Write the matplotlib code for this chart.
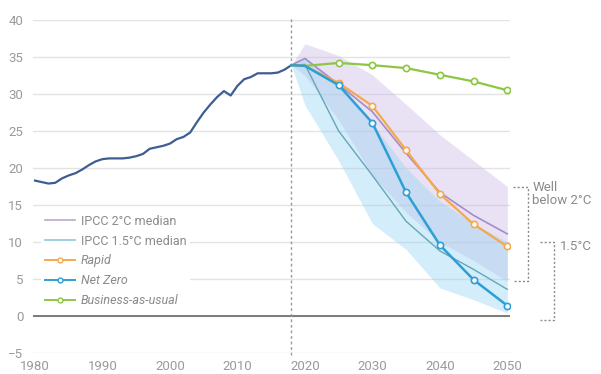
import matplotlib
matplotlib.use("Agg")
import matplotlib.pyplot as plt
from matplotlib.lines import Line2D

plt.rcParams['font.family'] = ['Roboto', 'DejaVu Sans']

# --- historical emissions, Gt CO2 ---
hist_years = list(range(1980, 2019))
hist_vals = [18.3, 18.1, 17.9, 18.0, 18.6, 19.0, 19.3, 19.8, 20.4, 20.9,
             21.2, 21.3, 21.3, 21.3, 21.4, 21.6, 21.9, 22.6, 22.8, 23.0,
             23.3, 23.9, 24.2, 24.8, 26.2, 27.5, 28.6, 29.6, 30.4, 29.8,
             31.1, 32.0, 32.3, 32.8, 32.8, 32.8, 32.9, 33.3, 33.9]

# --- scenarios ---
scen_years = [2018, 2020, 2025, 2030, 2035, 2040, 2045, 2050]
rapid = [33.9, 33.8, 31.5, 28.4, 22.4, 16.5, 12.4, 9.4]
net_zero = [33.9, 33.8, 31.2, 26.1, 16.7, 9.6, 4.9, 1.4]
bau = [33.9, 33.8, 34.2, 33.9, 33.5, 32.6, 31.7, 30.5]
ipcc_2c_med = [33.9, 34.8, 31.3, 27.6, 22.0, 16.7, 13.6, 11.1]
ipcc_15_med = [33.9, 34.0, 25.0, 19.0, 12.8, 8.8, 6.3, 3.6]

# IPCC ranges
ipcc_2c_hi = [33.9, 36.8, 35.2, 32.6, 28.6, 24.5, 21.0, 17.5]
ipcc_2c_lo = [33.9, 32.5, 26.5, 19.0, 14.0, 10.0, 7.5, 4.7]
ipcc_15_hi = [33.9, 35.0, 31.0, 26.0, 20.0, 15.5, 12.5, 10.0]
ipcc_15_lo = [33.9, 28.5, 21.0, 12.5, 9.0, 3.8, 2.2, 0.4]

y_ticks = [-5, 0, 5, 10, 15, 20, 25, 30, 35, 40]
x_ticks = [1980, 1990, 2000, 2010, 2020, 2030, 2040, 2050]

fig = plt.figure(figsize=(6.01, 3.74), dpi=100)
ax = fig.add_axes([0.0549, 0.0561, 0.7937, 0.8904])

ax.set_xlim(1979.7, 2050.4)
ax.set_ylim(-5, 40)

for s in ax.spines.values():
    s.set_visible(False)
ax.set_yticks(y_ticks)
ax.set_xticks(x_ticks)
ax.tick_params(length=0, labelsize=9.5, labelcolor='#9a9a9a')
ax.tick_params(axis='y', pad=7)
ax.tick_params(axis='x', pad=5)
ax.yaxis.grid(True, color='#e3e3e3', lw=1)
ax.set_axisbelow(True)
ax.axhline(0, color='#7a7a7a', lw=1.4, zorder=1)

# ranges
ax.fill_between(scen_years, ipcc_2c_lo, ipcc_2c_hi, color='#c8b8e4', alpha=0.4, lw=0, zorder=2)
ax.fill_between(scen_years, ipcc_15_lo, ipcc_15_hi, color='#95d3f3', alpha=0.4, lw=0, zorder=2)

# base year marker line
ax.plot([2018, 2018], [-5.3, 40.4], color='#9a9a9a', lw=1, ls=(0, (2, 2)), clip_on=False, zorder=3)

ax.plot(hist_years, hist_vals, color='#3d5e93', lw=1.6, zorder=5)

ax.plot(scen_years, ipcc_2c_med, color='#a58cc8', lw=1.2, zorder=4)
ax.plot(scen_years, ipcc_15_med, color='#64a7b8', lw=1.0, zorder=4)

mk = dict(marker='o', markersize=4.5, markerfacecolor='white', markeredgewidth=1.2,
          markevery=list(range(2, len(scen_years))), zorder=6)
ax.plot(scen_years, bau, color='#8dc642', lw=1.6, **mk)
ax.plot(scen_years, rapid, color='#f5a94a', lw=1.6, **mk)
ax.plot(scen_years, net_zero, color='#2d9fd6', lw=1.8, **mk)

# brackets on the right
br = dict(color='#8a8a8a', lw=1, ls=(0, (1.5, 1.5)), clip_on=False)
ax.plot([2050.8, 2053.0, 2053.0, 2050.8], [17.5, 17.5, 4.7, 4.7], **br)
ax.text(2053.7, 18.2, 'Well\nbelow 2°C', fontsize=9.5, color='#8a8a8a',
        va='top', ha='left', linespacing=0.95)
ax.plot([2054.8, 2056.9, 2056.9, 2054.8], [10.0, 10.0, -0.6, -0.6], **br)
ax.text(2057.8, 9.4, '1.5°C', fontsize=9.5, color='#8a8a8a', va='center', ha='left')

handles = [
    Line2D([], [], color='#b8a8d0', lw=1.2),
    Line2D([], [], color='#8cc8dc', lw=1.2),
    Line2D([], [], color='#f5a94a', lw=1.4, marker='o', markersize=3.5, markerfacecolor='white'),
    Line2D([], [], color='#2d9fd6', lw=1.4, marker='o', markersize=3.5, markerfacecolor='white'),
    Line2D([], [], color='#8dc642', lw=1.4, marker='o', markersize=3.5, markerfacecolor='white'),
]
labels = ['IPCC 2°C median', 'IPCC 1.5°C median', 'Rapid', 'Net Zero', 'Business-as-usual']
leg = ax.legend(handles, labels, loc='upper left', bbox_to_anchor=(0.068, 0.436),
                bbox_transform=fig.transFigure, frameon=True, fontsize=9,
                handlelength=2.4, handletextpad=0.5, labelspacing=0.55,
                borderpad=0.3, borderaxespad=0)
leg.get_frame().set_facecolor('white')
leg.get_frame().set_edgecolor('none')
leg.get_frame().set_alpha(1)
for t in leg.get_texts():
    t.set_color('#8a8a8a')
for t in leg.get_texts()[2:]:
    t.set_fontstyle('italic')

fig.savefig('out.png', dpi=100)
